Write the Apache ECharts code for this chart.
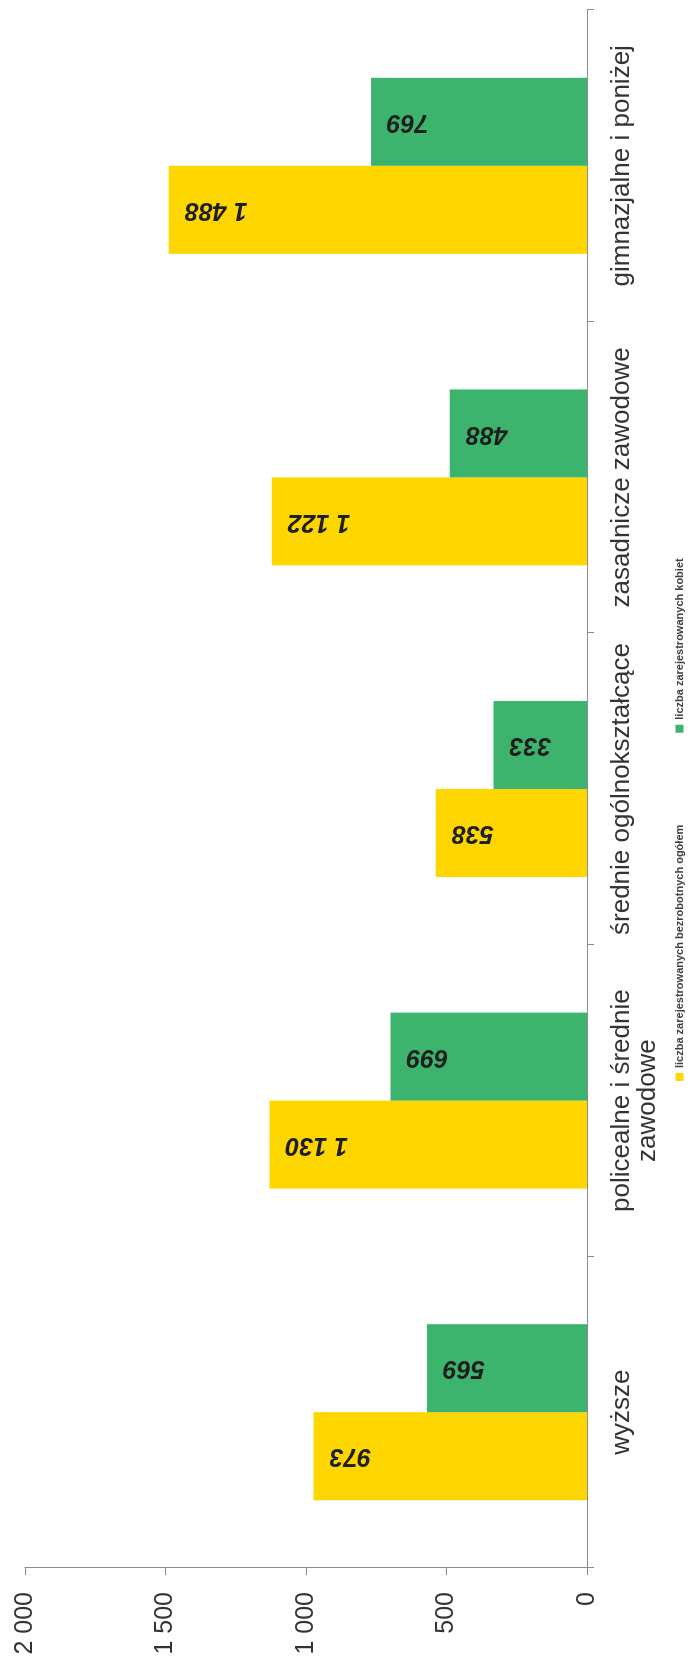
<!DOCTYPE html>
<html>
<head>
<meta charset="utf-8">
<script src="https://cdn.jsdelivr.net/npm/echarts@6/dist/echarts.min.js"></script>
<style>
  html, body { margin: 0; padding: 0; background: #ffffff; width: 696px; height: 1664px; overflow: hidden; }
  #chart { position: absolute; left: 0; top: 0; width: 1664px; height: 696px;
           transform-origin: 0 0; transform: translate(0px, 1664px) rotate(-90deg); }
</style>
</head>
<body>
<div id="chart"></div>
<script>
const categories = ['wyższe', 'policealne i średnie\nzawodowe', 'średnie ogólnokształcące', 'zasadnicze zawodowe', 'gimnazjalne i poniżej'];
const seriesNames = ['liczba zarejestrowanych bezrobotnych ogółem', 'liczba zarejestrowanych kobiet'];
const totalValues = [973, 1130, 538, 1122, 1488];
const womenValues = [569, 699, 333, 488, 769];
const valueTicks = [0, 500, 1000, 1500, 2000];

const fmt = v => String(v).replace(/\B(?=(\d{3})+(?!\d))/g, ' ');
const FONT = '"Liberation Sans", Arial, sans-serif';

const chart = echarts.init(document.getElementById('chart'), null, { renderer: 'canvas' });
const labelStyle = {
  show: true, position: 'insideTop', distance: 16, rotate: 90,
  align: 'right', verticalAlign: 'middle',
  fontFamily: FONT, fontSize: 25, fontWeight: 'bold', fontStyle: 'italic', color: '#1e1e1e',
  formatter: p => fmt(p.value)
};
chart.setOption({
  animation: false,
  backgroundColor: '#ffffff',
  grid: { left: 96, right: 10, top: 25, bottom: 109, containLabel: false },
  legend: {
    bottom: 6, left: 578,
    icon: 'rect', itemWidth: 8, itemHeight: 8, itemGap: 92,
    textStyle: { fontFamily: FONT, fontSize: 11, fontWeight: 'bold', color: '#404040' },
    data: seriesNames
  },
  xAxis: {
    type: 'category', data: categories,
    axisLine: { show: true, lineStyle: { color: '#8c8c8c', width: 1 } },
    axisTick: { show: true, length: 7, lineStyle: { color: '#8c8c8c' } },
    axisLabel: { margin: 22, fontFamily: FONT, fontSize: 26, color: '#333333', lineHeight: 26, interval: 0 }
  },
  yAxis: {
    type: 'value', min: valueTicks[0], max: valueTicks[valueTicks.length - 1], interval: 500,
    axisLine: { show: true, lineStyle: { color: '#8c8c8c', width: 1 } },
    axisTick: { show: true, length: 7, lineStyle: { color: '#8c8c8c' } },
    splitLine: { show: false },
    axisLabel: { margin: 24, fontFamily: FONT, fontSize: 25, color: '#333333', formatter: v => fmt(v) }
  },
  series: [
    { name: seriesNames[0], type: 'bar', data: totalValues, barWidth: 88, barGap: '0%',
      itemStyle: { color: '#fdd600' }, label: labelStyle },
    { name: seriesNames[1], type: 'bar', data: womenValues, barWidth: 88, barGap: '0%',
      itemStyle: { color: '#3db46d' }, label: labelStyle }
  ]
});
</script>
</body>
</html>
